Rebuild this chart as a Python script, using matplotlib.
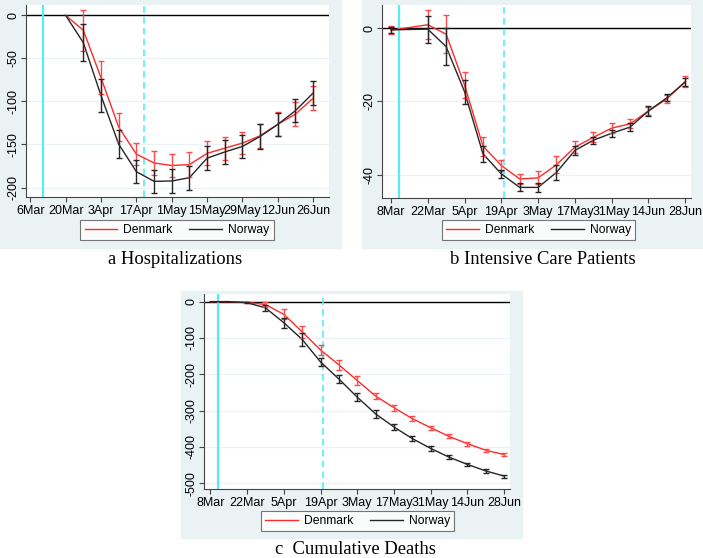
import numpy as np
import pandas as pd
import matplotlib
matplotlib.use("Agg")
import matplotlib.pyplot as plt
from matplotlib.patches import Rectangle
from matplotlib.lines import Line2D

W, H = 703, 558

# ---- a Hospitalizations ----
hosp_dates = ["2020-03-20", "2020-03-27", "2020-04-03", "2020-04-10", "2020-04-17",
              "2020-04-24", "2020-05-01", "2020-05-08", "2020-05-15", "2020-05-22",
              "2020-05-29", "2020-06-05", "2020-06-12", "2020-06-19", "2020-06-26"]
dk_hosp = [0, -17.4, -72.5, -129.8, -161.2, -171.5, -174.4, -173.4, -160.3, -154.3,
           -148.4, -139.9, -126.6, -114.7, -96.3]
dk_hosp_err = [0, 23.6, 19.4, 16.7, 13.2, 13.8, 13.6, 14.1, 14.1, 13.2, 12.8, 14.0, 13.8, 14.0, 14.1]
no_hosp = [0, -31.8, -93.2, -149.6, -181.6, -192.8, -192.4, -188.6, -165.9, -158.7,
           -152.3, -140.7, -126.7, -110.7, -90.3]
no_hosp_err = [0, 21.7, 19.2, 16.3, 13.4, 13.0, 13.4, 13.8, 14.0, 13.4, 13.6, 14.3, 13.6, 13.0, 13.6]
hosp_ticks = ["2020-03-06", "2020-03-20", "2020-04-03", "2020-04-17", "2020-05-01",
              "2020-05-15", "2020-05-29", "2020-06-12", "2020-06-26"]
hosp_ticklabels = ["6Mar", "20Mar", "3Apr", "17Apr", "1May", "15May", "29May", "12Jun", "26Jun"]

# ---- b Intensive Care Patients ----
icu_dates = ["2020-03-08", "2020-03-22", "2020-03-29", "2020-04-05", "2020-04-12",
             "2020-04-19", "2020-04-26", "2020-05-03", "2020-05-10", "2020-05-17",
             "2020-05-24", "2020-05-31", "2020-06-07", "2020-06-14", "2020-06-21", "2020-06-28"]
dk_icu = [-0.5, 1.0, -1.6, -15.5, -32.2, -37.5, -41.2, -40.9, -37.3, -32.5, -29.8,
          -27.3, -26.1, -22.6, -19.3, -14.5]
dk_icu_err = [1.1, 4.0, 5.2, 3.5, 2.6, 1.6, 1.5, 1.8, 2.3, 1.6, 1.4, 1.4, 1.2, 1.2, 1.2, 1.5]
no_icu = [-0.4, -0.2, -5.0, -17.3, -34.3, -39.8, -43.5, -43.5, -39.4, -33.4, -30.6,
          -28.7, -27.0, -22.6, -19.0, -14.7]
no_icu_err = [0.9, 3.7, 5.0, 3.3, 2.2, 1.1, 1.1, 1.3, 2.1, 1.2, 1.0, 1.0, 1.0, 1.4, 1.0, 1.1]

# ---- c Cumulative Deaths ----
death_dates = ["2020-03-08", "2020-03-15", "2020-03-22", "2020-03-29", "2020-04-05",
               "2020-04-12", "2020-04-19", "2020-04-26", "2020-05-03", "2020-05-10",
               "2020-05-17", "2020-05-24", "2020-05-31", "2020-06-07", "2020-06-14",
               "2020-06-21", "2020-06-28"]
dk_death = [0, 0, -2, -8, -35, -83, -133, -174, -217, -260, -292, -322, -347, -371, -391, -409, -421]
dk_death_err = [0, 0, 2, 7, 14, 17, 15, 13, 12, 9, 8, 7, 6, 5.5, 5, 4.5, 4]
no_death = [0, 0, -3, -17, -58, -104, -166, -213, -263, -309, -345, -377, -404, -428, -448, -466, -480]
no_death_err = [0, 0, 2, 8, 14, 18, 12, 12, 11.5, 10, 7.5, 6.5, 6, 5.5, 5, 4.5, 4]

icu_ticks = ["2020-03-08", "2020-03-22", "2020-04-05", "2020-04-19", "2020-05-03",
             "2020-05-17", "2020-05-31", "2020-06-14", "2020-06-28"]
icu_ticklabels = ["8Mar", "22Mar", "5Apr", "19Apr", "3May", "17May", "31May", "14Jun", "28Jun"]

lockdown_date = "2020-03-11"
reopen_date = "2020-04-20"

BG = "#eaf2f3"
RED = "#ff2a2a"
DARK = "#262626"
CYAN = "#55eef4"


def px_axes(fig, x0, y0, x1, y1):
    """Axes from pixel box (top-left origin)."""
    return fig.add_axes([x0 / W, (H - y1) / H, (x1 - x0) / W, (y1 - y0) / H])


def bg_box(fig, x0, y0, x1, y1):
    fig.patches.append(Rectangle((x0 / W, (H - y1) / H), (x1 - x0) / W, (y1 - y0) / H,
                                 transform=fig.transFigure, color=BG, zorder=-5))


def plot_panel(ax, dates, dk, dk_err, no, no_err, ticks, ticklabels, yticks, ylim, xlim):
    d = pd.to_datetime(dates)
    dk, dk_err = np.array(dk, float), np.array(dk_err, float)
    no, no_err = np.array(no, float), np.array(no_err, float)

    ax.axhline(0, color="black", lw=1.0, zorder=2)
    ax.axvline(pd.Timestamp(lockdown_date), color=CYAN, lw=1.6, zorder=2)
    ax.axvline(pd.Timestamp(reopen_date), color=CYAN, lw=1.2, ls=(0, (4, 2.5)), zorder=2)

    ax.plot(d, dk, color=RED, lw=1.0, zorder=3)
    ax.plot(d, no, color=DARK, lw=1.0, zorder=3)

    m = dk_err > 0
    ax.errorbar(d[m], dk[m], yerr=dk_err[m], fmt="none", ecolor="#ff4a4a",
                elinewidth=1.0, capsize=2.2, capthick=1.0, zorder=4)
    m = no_err > 0
    ax.errorbar(d[m], no[m], yerr=no_err[m], fmt="none", ecolor=DARK,
                elinewidth=1.0, capsize=2.2, capthick=1.0, zorder=4)

    ax.set_xlim(pd.Timestamp(xlim[0]), pd.Timestamp(xlim[1]))
    ax.set_ylim(*ylim)
    ax.set_xticks(pd.to_datetime(ticks))
    ax.set_xticklabels(ticklabels)
    ax.set_yticks(yticks)
    ax.set_yticklabels([f"{v:g}" for v in yticks], rotation=90, va="center")

    ax.set_facecolor("white")
    ax.yaxis.grid(True, color=BG, lw=0.9)
    ax.set_axisbelow(True)
    for s in ["top", "right"]:
        ax.spines[s].set_visible(False)
    for s in ["left", "bottom"]:
        ax.spines[s].set_color("#444444")
        ax.spines[s].set_linewidth(0.8)
    ax.tick_params(axis="both", colors="#444444", labelcolor="black", labelsize=9,
                   length=3.5, width=0.8)
    ax.tick_params(axis="x", pad=2)
    ax.tick_params(axis="y", pad=1.5)


def add_legend(fig, cx, cy):
    handles = [Line2D([], [], color=RED, lw=1.0), Line2D([], [], color=DARK, lw=1.0)]
    leg = fig.legend(handles, ["Denmark", "Norway"], ncol=2, loc="center",
                     bbox_to_anchor=(cx / W, (H - cy) / H), fontsize=8.7,
                     frameon=True, fancybox=False, handlelength=2.7, handletextpad=0.5,
                     columnspacing=1.4, borderpad=0.35, borderaxespad=0)
    leg.get_frame().set_edgecolor("#555555")
    leg.get_frame().set_linewidth(0.8)


plt.rcParams["font.family"] = ["Liberation Sans", "DejaVu Sans"]
fig = plt.figure(figsize=(W / 100, H / 100), dpi=100)

bg_box(fig, 0, 0, 341, 248)
bg_box(fig, 362, 0, 703, 248)
bg_box(fig, 181, 291, 522, 538)

ax_a = px_axes(fig, 26, 5, 329, 197)
plot_panel(ax_a, hosp_dates, dk_hosp, dk_hosp_err, no_hosp, no_hosp_err,
           hosp_ticks, hosp_ticklabels, [0, -50, -100, -150, -200], (-211, 12),
           ("2020-03-04 07:00", "2020-07-02 07:00"))

ax_b = px_axes(fig, 382, 5, 691, 198)
plot_panel(ax_b, icu_dates, dk_icu, dk_icu_err, no_icu, no_icu_err,
           icu_ticks, icu_ticklabels, [0, -20, -40], (-46.4, 6.4),
           ("2020-03-04 14:00", "2020-06-30 05:00"))

ax_c = px_axes(fig, 204, 294, 510, 489)
plot_panel(ax_c, death_dates, dk_death, dk_death_err, no_death, no_death_err,
           icu_ticks, icu_ticklabels, [0, -100, -200, -300, -400, -500], (-515.6, 21),
           ("2020-03-05 14:00", "2020-06-30 05:00"))

add_legend(fig, 177, 230)
add_legend(fig, 538.5, 230)
add_legend(fig, 357.5, 521)

cap_font = dict(family=["Liberation Serif", "DejaVu Serif"], fontsize=13.4, ha="center", va="center")
fig.text(175 / W, (H - 259) / H, "a Hospitalizations", **cap_font)
fig.text(543 / W, (H - 259) / H, "b Intensive Care Patients", **cap_font)
fig.text(355 / W, (H - 550) / H, "c  Cumulative Deaths", **cap_font)

fig.savefig("out.png", dpi=100)
